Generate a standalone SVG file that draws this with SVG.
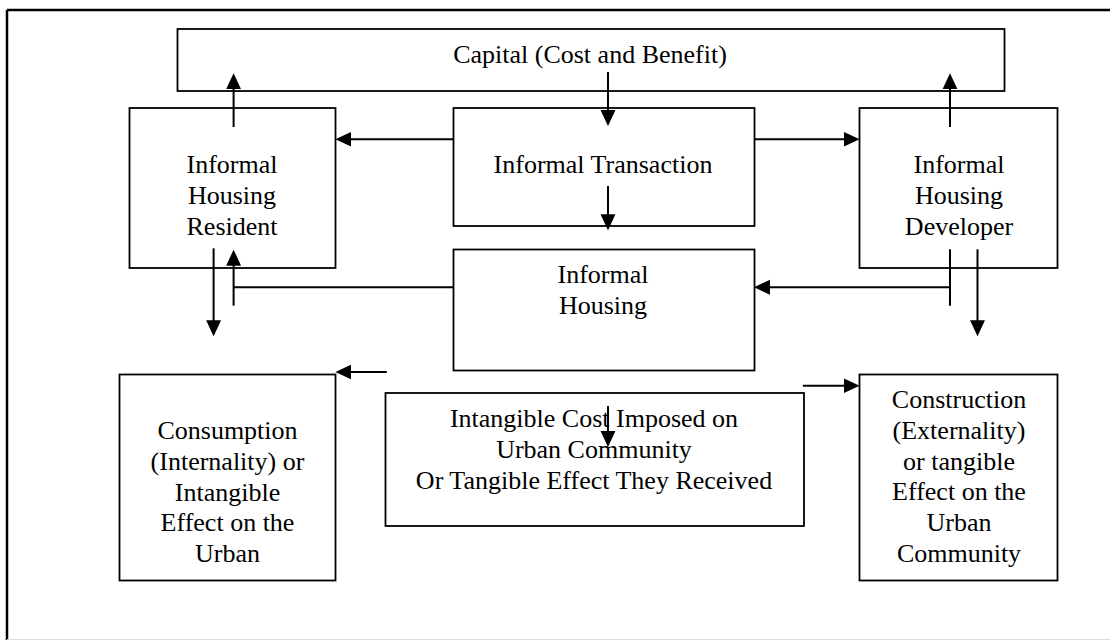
<svg xmlns="http://www.w3.org/2000/svg" width="1110" height="640" viewBox="0 0 1110 640">
<defs>
<style>
.box{fill:#fff;stroke:#000;stroke-width:1.8}
.t{font-family:"Liberation Serif","Times New Roman",serif;font-size:26px;fill:#000;text-anchor:middle}
.c{fill:none;stroke:#000;stroke-width:2}
.a{marker-end:url(#ah)}
</style>
<marker id="ah" markerUnits="userSpaceOnUse" markerWidth="16" markerHeight="16" viewBox="0 0 15 14" refX="10" refY="7" orient="auto">
<path d="M0,0 L15,7 L0,14 z" fill="#000"/>
</marker>
</defs>
<rect x="0" y="0" width="1110" height="640" fill="#fff"/>
<g id="frame">
<line x1="7" y1="10" x2="1110" y2="10" stroke="#000" stroke-width="2.5"/>
<line x1="7" y1="10" x2="7" y2="640" stroke="#000" stroke-width="2.5"/>
<line x1="7" y1="639.5" x2="1110" y2="639.5" stroke="#ddd" stroke-width="1"/>
</g>
<g id="capital">
<rect class="box" x="177.5" y="29" width="827" height="62"/>
<text class="t" x="590" y="63">Capital (Cost and Benefit)</text>
</g>
<g id="resident">
<rect class="box" x="129.5" y="108" width="206" height="160"/>
<text class="t" x="232" y="173">Informal</text>
<text class="t" x="232" y="204">Housing</text>
<text class="t" x="232" y="235">Resident</text>
</g>
<g id="transaction">
<rect class="box" x="453.5" y="108" width="301" height="118"/>
<text class="t" x="603" y="173">Informal Transaction</text>
</g>
<g id="developer">
<rect class="box" x="859.5" y="108" width="198" height="160"/>
<text class="t" x="959" y="173">Informal</text>
<text class="t" x="959" y="204">Housing</text>
<text class="t" x="959" y="235">Developer</text>
</g>
<g id="housing">
<rect class="box" x="453.5" y="249.5" width="301" height="121"/>
<text class="t" x="603" y="283">Informal</text>
<text class="t" x="603" y="314">Housing</text>
</g>
<g id="intangible">
<rect class="box" x="385.5" y="393" width="418.5" height="133"/>
<text class="t" x="594" y="427">Intangible Cost Imposed on</text>
<text class="t" x="594" y="458">Urban Community</text>
<text class="t" x="594" y="489">Or Tangible Effect They Received</text>
</g>
<g id="consumption">
<rect class="box" x="119.5" y="374.5" width="216" height="206"/>
<text class="t" x="227.5" y="439">Consumption</text>
<text class="t" x="227.5" y="470">(Internality) or</text>
<text class="t" x="227.5" y="501">Intangible</text>
<text class="t" x="227.5" y="531">Effect on the</text>
<text class="t" x="227.5" y="562">Urban</text>
</g>
<g id="construction">
<rect class="box" x="859.5" y="374.5" width="198" height="206"/>
<text class="t" x="959" y="408">Construction</text>
<text class="t" x="959" y="439">(Externality)</text>
<text class="t" x="959" y="470">or tangible</text>
<text class="t" x="959" y="500">Effect on the</text>
<text class="t" x="959" y="531">Urban</text>
<text class="t" x="959" y="562">Community</text>
</g>
<g id="connectors">
<line class="c a" x1="233.6" y1="127" x2="233.6" y2="78.5"/>
<line class="c a" x1="453.6" y1="139.3" x2="340.7" y2="139.3"/>
<line class="c a" x1="608" y1="72" x2="608" y2="120.7"/>
<line class="c a" x1="754.3" y1="139.3" x2="854.3" y2="139.3"/>
<line class="c a" x1="950" y1="127" x2="950" y2="78.5"/>
<line class="c a" x1="608" y1="186" x2="608" y2="225"/>
<line class="c" x1="950" y1="249.3" x2="950" y2="305.7"/>
<line class="c a" x1="950" y1="287.3" x2="759.3" y2="287.3"/>
<line class="c a" x1="977.5" y1="249.3" x2="977.5" y2="331"/>
<line class="c a" x1="213.6" y1="248.3" x2="213.6" y2="331"/>
<line class="c a" x1="233.6" y1="305.7" x2="233.6" y2="255"/>
<line class="c" x1="233.6" y1="287.3" x2="453.6" y2="287.3"/>
<line class="c a" x1="386.8" y1="372" x2="340.7" y2="372"/>
<line class="c a" x1="802.9" y1="385.7" x2="854.3" y2="385.7"/>
<line class="c a" x1="608" y1="406" x2="608" y2="441.7"/>
</g>
</svg>
